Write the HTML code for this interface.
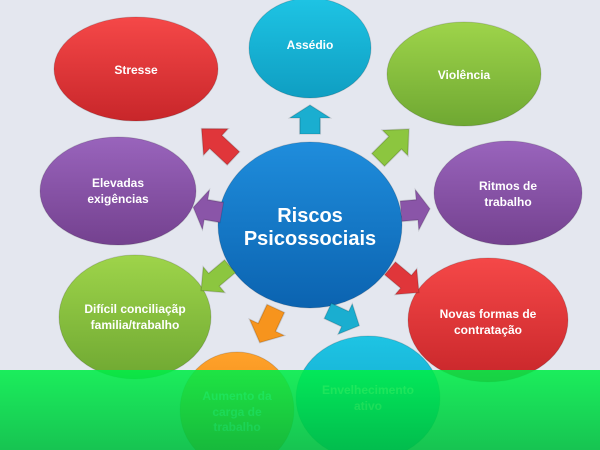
<!DOCTYPE html>
<html><head><meta charset="utf-8"><style>
html,body{margin:0;padding:0;background:#e4e7ef;}
svg{display:block;}
text{font-family:"Liberation Sans",sans-serif;font-weight:bold;fill:#fff;text-anchor:middle;}
</style></head><body>
<svg width="600" height="450" viewBox="0 0 600 450" xmlns="http://www.w3.org/2000/svg">
<defs>
<linearGradient id="r" x1="0" y1="0" x2="0" y2="1"><stop offset="0" stop-color="#f54848"/><stop offset="1" stop-color="#c8262a"/></linearGradient>
<linearGradient id="c" x1="0" y1="0" x2="0" y2="1"><stop offset="0" stop-color="#1ec4e4"/><stop offset="1" stop-color="#0f9ec2"/></linearGradient>
<linearGradient id="g" x1="0" y1="0" x2="0" y2="1"><stop offset="0" stop-color="#9ed44a"/><stop offset="1" stop-color="#6fa832"/></linearGradient>
<linearGradient id="p" x1="0" y1="0" x2="0" y2="1"><stop offset="0" stop-color="#9964bc"/><stop offset="1" stop-color="#74418f"/></linearGradient>
<linearGradient id="b" x1="0" y1="0" x2="0" y2="1"><stop offset="0" stop-color="#1f8ddc"/><stop offset="1" stop-color="#0b63b0"/></linearGradient>
<linearGradient id="o" x1="0" y1="0" x2="0" y2="1"><stop offset="0" stop-color="#ffa22a"/><stop offset="1" stop-color="#e37a10"/></linearGradient>
<linearGradient id="ov" x1="0" y1="0" x2="0" y2="1"><stop offset="0" stop-color="#00ee48" stop-opacity="0.88"/><stop offset="1" stop-color="#00c040" stop-opacity="0.9"/></linearGradient>
<polygon id="ar" points="-14,-6 2,-6 2,-12 15,0 2,12 2,6 -14,6"/>
</defs>
<rect width="600" height="450" fill="#e4e7ef"/>
<g stroke="rgba(0,0,0,0.15)" stroke-width="1">
<ellipse cx="136" cy="69" rx="82" ry="52" fill="url(#r)"/>
<ellipse cx="310" cy="48" rx="61" ry="50" fill="url(#c)"/>
<ellipse cx="464" cy="74" rx="77" ry="52" fill="url(#g)"/>
<ellipse cx="118" cy="191" rx="78" ry="54" fill="url(#p)"/>
<ellipse cx="508" cy="193" rx="74" ry="52" fill="url(#p)"/>
<ellipse cx="135" cy="317" rx="76" ry="62" fill="url(#g)"/>
<ellipse cx="488" cy="320" rx="80" ry="62" fill="url(#r)"/>
<ellipse cx="237" cy="410" rx="57" ry="58" fill="url(#o)"/>
<ellipse cx="368" cy="398" rx="72" ry="62" fill="url(#c)"/>
<ellipse cx="310" cy="225" rx="92" ry="83" fill="url(#b)"/>
</g>
<g stroke="rgba(0,0,0,0.15)">
<use href="#ar" transform="translate(310,120) rotate(-90) scale(1.0,1.7)" fill="#1aaed0"/>
<use href="#ar" transform="translate(218,144) rotate(-137) scale(1.5,1.5)" fill="#e0363a"/>
<use href="#ar" transform="translate(393,145) rotate(-45) scale(1.5,1.5)" fill="#8cc63f"/>
<use href="#ar" transform="translate(208,210) rotate(190) scale(1.0,1.7)" fill="#8a55a8"/>
<use href="#ar" transform="translate(415,210) rotate(-5) scale(1.0,1.7)" fill="#8a55a8"/>
<use href="#ar" transform="translate(216,278) rotate(140) scale(1.3,1.4)" fill="#8cc63f"/>
<use href="#ar" transform="translate(404,280) rotate(40) scale(1.3,1.4)" fill="#e0363a"/>
<use href="#ar" transform="translate(268,325) rotate(115) scale(1.3,1.6)" fill="#f7941d"/>
<use href="#ar" transform="translate(343,318) rotate(25) scale(1.2,1.4)" fill="#1aaed0"/>
</g>
<g font-size="12">
<text x="136" y="74">Stresse</text>
<text x="310" y="49">Assédio</text>
<text x="464" y="79">Violência</text>
<text x="118" y="187">Elevadas</text>
<text x="118" y="203">exigências</text>
<text x="508" y="190">Ritmos de</text>
<text x="508" y="206">trabalho</text>
<text x="135" y="313">Difícil conciliaçãp</text>
<text x="135" y="329">familia/trabalho</text>
<text x="488" y="318">Novas formas de</text>
<text x="488" y="334">contratação</text>
<text x="237" y="400">Aumento da</text>
<text x="237" y="416">carga de</text>
<text x="237" y="431">trabalho</text>
<text x="368" y="394">Envelhecimento</text>
<text x="368" y="410">ativo</text>
</g>
<text x="310" y="222" font-size="20">Riscos</text>
<text x="310" y="245" font-size="20">Psicossociais</text>
<rect x="0" y="370" width="600" height="80" fill="url(#ov)"/>
</svg>
</body></html>
